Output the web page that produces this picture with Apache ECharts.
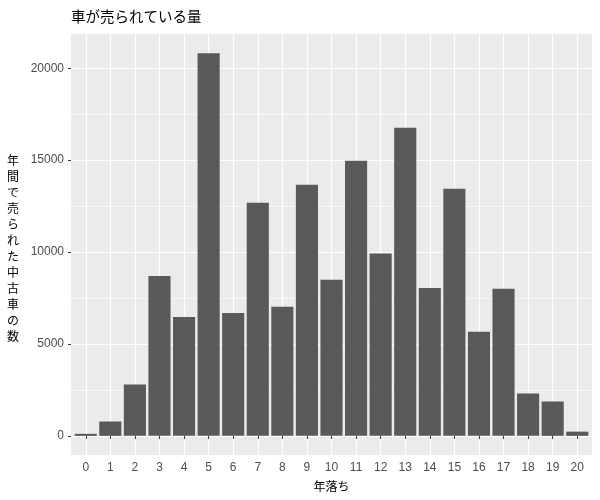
<!DOCTYPE html>
<html>
<head>
<meta charset="utf-8">
<script src="https://cdn.jsdelivr.net/npm/echarts@6/dist/echarts.min.js"></script>
<style>
  html, body { margin: 0; padding: 0; background: #fff; }
  #main { width: 600px; height: 500px; }
</style>
</head>
<body>
<div id="main"></div>
<script>
// 年落ち (years since first registration)
var years = ['0','1','2','3','4','5','6','7','8','9','10','11','12','13','14','15','16','17','18','19','20'];
// 年間で売られた中古車の数
var counts = [110, 780, 2790, 8700, 6470, 20820, 6690, 12680, 7020, 13660, 8490,
              14960, 9920, 16760, 8050, 13440, 5660, 8000, 2300, 1870, 230];
var yTicks = [0, 5000, 10000, 15000, 20000];

var jpFont = '"Noto Sans CJK JP", sans-serif';
var numFont = '"Liberation Sans", Arial, sans-serif';

// ggplot-like 5% expansion of the continuous axis
var ymax = Math.max.apply(null, counts);
var ymin = -0.05 * ymax;
var ytop = 1.05 * ymax;

var chart = echarts.init(document.getElementById('main'));
chart.setOption({
    animation: false,
    title: {
        text: '車が売られている量',
        left: 71,
        top: 9,
        padding: 0,
        textStyle: { fontFamily: jpFont, fontSize: 14.5, fontWeight: 'normal', color: '#000' }
    },
    grid: [
        // panel background + horizontal grid lines
        { left: 71, top: 34, width: 521, height: 421, show: true,
          backgroundColor: '#EBEBEB', borderWidth: 0, outerBoundsMode: 'none' },
        // discrete axis, inset by the extra 0.1 unit ggplot adds each side
        { left: 85.75, top: 34, width: 491.5, height: 421, outerBoundsMode: 'none' }
    ],
    xAxis: [
        { gridIndex: 0, type: 'value', min: 0, max: 1, show: false },
        {
            gridIndex: 1,
            type: 'category',
            data: years,
            boundaryGap: false,
            name: '年落ち',
            nameLocation: 'middle',
            nameGap: 25,
            nameTextStyle: { fontFamily: jpFont, fontSize: 12, color: '#000', verticalAlign: 'top' },
            axisLine: { show: false },
            axisTick: { show: true, length: 3, lineStyle: { color: '#333', width: 1 } },
            axisLabel: { margin: 7, fontFamily: numFont, fontSize: 12, color: '#4D4D4D', interval: 0 },
            splitLine: { show: true, lineStyle: { color: '#fff', width: 1.2 } }
        }
    ],
    yAxis: [
        {
            gridIndex: 0,
            type: 'value',
            min: ymin,
            max: ytop,
            // empty first row nudges the stacked title down a little
            name: '{g| }\n年\n間\nで\n売\nら\nれ\nた\n中\n古\n車\nの\n数',
            nameLocation: 'middle',
            nameRotate: 0,
            nameGap: 52,
            nameTextStyle: { fontFamily: jpFont, fontSize: 12, lineHeight: 16, color: '#000',
                             rich: { g: { fontSize: 4, lineHeight: 8 } } },
            axisLine: { show: false },
            axisTick: { show: true, length: 3, customValues: yTicks, lineStyle: { color: '#333', width: 1 } },
            axisLabel: { margin: 7, fontFamily: numFont, fontSize: 12, color: '#4D4D4D',
                         customValues: yTicks, formatter: function (v) { return String(v); } },
            splitLine: { show: true, lineStyle: { color: '#fff', width: 1.2 } },
            minorTick: { show: false, splitNumber: 2 },
            minorSplitLine: { show: true, lineStyle: { color: '#fff', width: 0.6 } }
        },
        { gridIndex: 1, type: 'value', min: ymin, max: ytop, show: false, splitLine: { show: false } }
    ],
    series: [{
        type: 'bar',
        xAxisIndex: 1,
        yAxisIndex: 1,
        data: counts,
        barWidth: '90%',
        clip: false,
        itemStyle: { color: '#595959' }
    }]
});
</script>
</body>
</html>
